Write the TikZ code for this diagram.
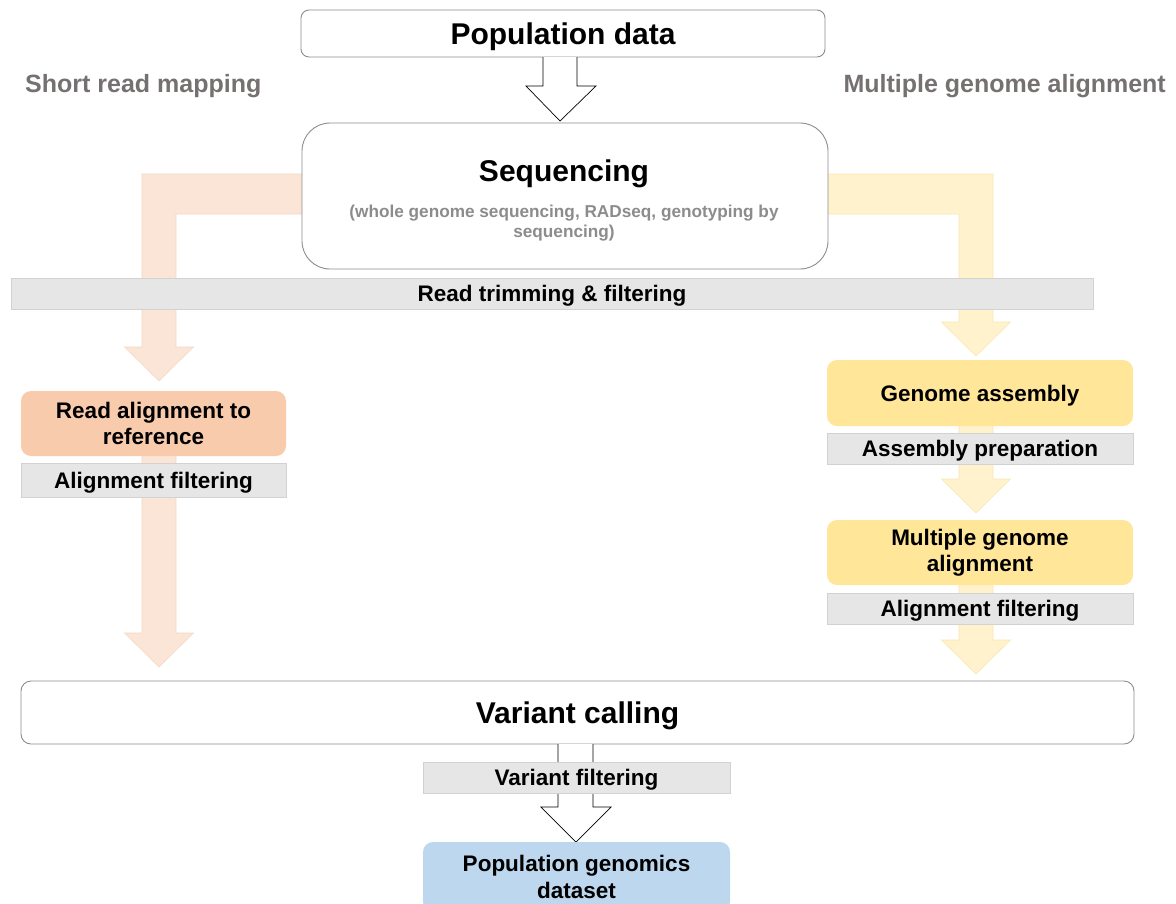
\documentclass[tikz,border=0pt]{standalone}
\usepackage{fontspec}
\setmainfont{Liberation Sans}
\usetikzlibrary{calc}

\definecolor{bandorange}{HTML}{FBE5D6}
\definecolor{bandorangeedge}{HTML}{F5D8C4}
\definecolor{boxorange}{HTML}{F8CBAD}
\definecolor{bandyellow}{HTML}{FFF2CC}
\definecolor{bandyellowedge}{HTML}{F9E6B4}
\definecolor{boxyellow}{HTML}{FFE699}
\definecolor{boxblue}{HTML}{BDD7EE}
\definecolor{barfill}{HTML}{E6E6E6}
\definecolor{baredge}{HTML}{D2D2D2}
\definecolor{boxline}{HTML}{8C8C8C}
\definecolor{headgray}{HTML}{767171}
\definecolor{subgray}{HTML}{8C8C8C}

% block arrow pointing down: #1 style, #2 centre x, #3 top y, #4 tip y
\newcommand\downblock[4]{%
  \filldraw[#1] (#2-17,#3) -- (#2+17,#3) -- (#2+17,#4-34) -- (#2+34.5,#4-34)
    -- (#2,#4) -- (#2-34.5,#4-34) -- (#2-17,#4-34) -- cycle;}

\begin{document}
\begin{tikzpicture}[x=1pt,y=-1pt,
  titlefont/.style={font=\bfseries\fontsize{30}{34}\selectfont, text height=21.5pt, text depth=0pt},
  stepfont/.style={font=\bfseries\fontsize{22.5}{26.5}\selectfont},
  oneline/.style={text height=16pt, text depth=0pt},
  whitebox/.style={draw=boxline, line width=0.9pt, fill=white, inner sep=0pt},
  stepbox/.style={stepfont, inner sep=0pt, align=center, rounded corners=10pt,
    minimum width=#1},
  filterbar/.style={stepfont, oneline, fill=barfill, draw=baredge, line width=0.6pt,
    inner sep=0pt, minimum height=31pt, minimum width=#1},
  orangeband/.style={fill=bandorange, draw=bandorangeedge, line width=0.6pt},
  yellowband/.style={fill=bandyellow, draw=bandyellowedge, line width=0.6pt},
  hollow/.style={fill=white, draw=black, line width=0.7pt},
  sidehead/.style={font=\bfseries\fontsize{25}{30}\selectfont, text=headgray, inner sep=0pt}
]
\useasboundingbox (0,0) rectangle (1176,903);

% ---- side headings ----
\node[sidehead, anchor=base west] (srm) at (25,92) {Short read mapping};
\node[sidehead, anchor=base east] (mga) at (1166,92) {Multiple genome alignment};

% ---- coloured bands behind the central boxes ----
% short read mapping branch (left)
\filldraw[orangeband] (320,174) -- (142,174) -- (142,347) -- (124.5,347) -- (159,381)
  -- (193.5,347) -- (176,347) -- (176,214) -- (320,214) -- cycle;
\downblock{orangeband}{159}{420}{667}
% multiple genome alignment branch (right)
\filldraw[yellowband] (810,174) -- (993,174) -- (993,322) -- (1010.5,322) -- (976,356)
  -- (941.5,322) -- (959,322) -- (959,214) -- (810,214) -- cycle;
\downblock{yellowband}{976}{400}{513}
\downblock{yellowband}{976}{560}{674}

% ---- top: population data and sequencing ----
\node[whitebox, rounded corners=8pt, minimum width=524pt, minimum height=47pt,
  titlefont] (pop) at (563,33.5) {Population data};
\draw[hollow] (543,57) -- (543,86) -- (526,86) -- (560,121) -- (596,86) -- (577,86)
  -- (577,57);
\node[whitebox, rounded corners=28pt, minimum width=526pt, minimum height=146pt]
  (seq) at (565,196) {};
\node[font=\bfseries\fontsize{30}{34}\selectfont, inner sep=0pt, anchor=base]
  (seqtitle) at (564,181) {Sequencing};
\node[font=\bfseries\fontsize{17.2}{20}\selectfont, text=subgray, align=center,
  inner sep=0pt, anchor=base] (seqsub) at (564,237)
  {(whole genome sequencing, RADseq, genotyping by\\sequencing)};

% ---- read trimming ----
\node[filterbar=1082pt] (trim) at (552,293.5) {Read trimming \& filtering};

% ---- left branch ----
\node[stepbox=265pt, fill=boxorange, minimum height=65pt] (ral) at (153.5,423.5)
  {Read alignment to\\reference};
\node[filterbar=265pt, minimum height=34pt] (afl) at (153.5,480) {Alignment filtering};

% ---- right branch ----
\node[stepbox=306pt, oneline, fill=boxyellow, minimum height=66pt] (gas) at (980,393)
  {Genome assembly};
\node[filterbar=306pt] (apr) at (980,448.5) {Assembly preparation};
\node[stepbox=306pt, fill=boxyellow, minimum height=65pt] (mgal) at (980,552.5)
  {Multiple genome\\alignment};
\node[filterbar=306pt] (afr) at (980,608.5) {Alignment filtering};

% ---- variant calling ----
\node[whitebox, rounded corners=10pt, minimum width=1113pt, minimum height=63pt,
  titlefont] (vc) at (577.5,712.5) {Variant calling};
\draw[hollow] (558,744) -- (558,807) -- (541,807) -- (576,842) -- (611,807) -- (593,807)
  -- (593,744);
\node[filterbar=307pt] (vf) at (576.5,777.5) {Variant filtering};
\node[stepbox=307pt, fill=boxblue, minimum height=70pt] (pgd) at (576.5,877)
  {Population genomics\\dataset};
\end{tikzpicture}
\end{document}
